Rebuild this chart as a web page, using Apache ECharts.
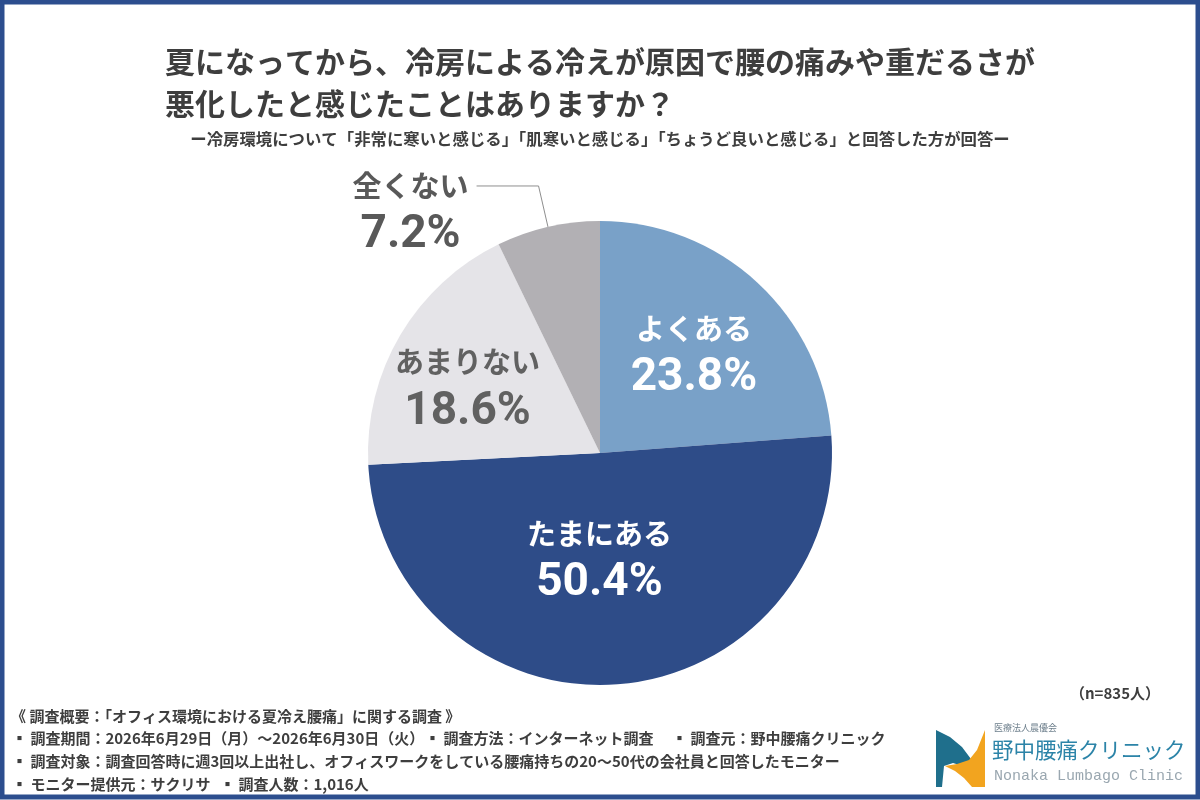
<!DOCTYPE html>
<html>
<head>
<meta charset="utf-8">
<script src="https://cdn.jsdelivr.net/npm/echarts@6.0.0/dist/echarts.min.js"></script>
<style>
  html, body { margin: 0; padding: 0; background: #fff; }
  #main { width: 1200px; height: 800px; }
</style>
</head>
<body>
<div id="main"></div>
<script>
// data
const categories = ['よくある', 'たまにある', 'あまりない', '全くない'];
const percents = [23.8, 50.4, 18.6, 7.2];
const sampleNote = '（n=835人）';

const titleLines = [
  '夏になってから、冷房による冷えが原因で腰の痛みや重だるさが',
  '悪化したと感じたことはありますか？'
];
const subTitle = 'ー冷房環境について「非常に寒いと感じる」「肌寒いと感じる」「ちょうど良いと感じる」と回答した方が回答ー';

const surveyHead = '《 調査概要：「オフィス環境における夏冷え腰痛」に関する調査 》';
const surveyRow1 = ['▪ 調査期間：2026年6月29日（月）～2026年6月30日（火）', '▪ 調査方法：インターネット調査', '▪ 調査元：野中腰痛クリニック'];
const surveyRow2 = ['▪ 調査対象：調査回答時に週3回以上出社し、オフィスワークをしている腰痛持ちの20～50代の会社員と回答したモニター'];
const surveyRow3 = ['▪ モニター提供元：サクリサ', '▪ 調査人数：1,016人'];

// styles
const palette = ['#79a1c8', '#2e4c88', '#e5e4e8', '#b2b0b4'];
const labelColors = ['#ffffff', '#ffffff', '#616161', '#595959'];
const JP = '"Noto Sans CJK JP", "Noto Sans", sans-serif';
const NUM = '"Liberation Sans Narrow", Roboto, "Noto Sans", sans-serif';
const TXT = '#3e3e3e';

const myChart = echarts.init(document.getElementById('main'));

// small nudges for the inside labels
const labelNudge = [[13, -7], [-8, -8], [-30, 0], null];

const pieData = categories.map(function (name, i) {
  const item = {
    name: name,
    value: percents[i],
    itemStyle: { color: palette[i] },
    label: { color: labelColors[i] }
  };
  if (i === 3) {
    item.label = {
      color: labelColors[i],
      position: 'outside',
      distanceToLabelLine: 8,
      formatter: function (p) {
        return '{sp| }\n{name|' + p.name + '}\n{pct|' + p.value.toFixed(1) + '%}';
      }
    };
    item.labelLine = {
      show: true,
      length: 42,
      length2: 62,
      smooth: false,
      lineStyle: { color: '#8e8e8e', width: 1 }
    };
  }
  return item;
});

function footText(str, x, y) {
  return {
    type: 'text',
    x: x,
    y: y,
    style: {
      text: str,
      fill: TXT,
      fontSize: 15,
      fontWeight: 'bold',
      fontFamily: JP,
      textAlign: 'left',
      textVerticalAlign: 'middle'
    }
  };
}

const footer = [
  footText(surveyHead, 11, 716),
  footText(surveyRow1[0], 12, 738),
  footText(surveyRow1[1], 425, 738),
  footText(surveyRow1[2], 672, 738),
  footText(surveyRow2[0], 12, 761),
  footText(surveyRow3[0], 12, 784),
  footText(surveyRow3[1], 220, 784)
];

const logo = [
  {
    type: 'polygon',
    shape: { points: [[936, 730], [950, 737], [962, 747], [971, 759], [978, 773], [966, 767], [953, 763], [944, 766], [942, 787], [936, 787]] },
    style: { fill: '#1f6f8c' }
  },
  {
    type: 'polygon',
    shape: { points: [[985, 730], [985, 787], [972, 787], [964, 778], [955, 771], [945, 766], [957, 764], [969, 760], [977, 750]] },
    style: { fill: '#f2a41f' }
  },
  {
    type: 'text', x: 994, y: 728,
    style: { text: '医療法人晨優会', fill: '#6d7f8c', fontSize: 9, fontFamily: JP, textVerticalAlign: 'middle' }
  },
  {
    type: 'text', x: 992, y: 750,
    style: { text: '野中腰痛クリニック', fill: '#2c84a8', fontSize: 21.5, fontFamily: JP, textVerticalAlign: 'middle' }
  },
  {
    type: 'text', x: 994, y: 776,
    style: { text: 'Nonaka Lumbago Clinic', fill: '#9aa7b0', fontSize: 15, fontFamily: '"Liberation Mono", "DejaVu Sans Mono", monospace', textVerticalAlign: 'middle' }
  }
];

myChart.setOption({
  animation: false,
  backgroundColor: '#ffffff',
  title: [
    {
      text: titleLines.join('\n'),
      left: 165,
      top: 41,
      padding: 0,
      textStyle: { fontSize: 30, fontWeight: 'bold', color: TXT, lineHeight: 42, fontFamily: JP }
    },
    {
      text: subTitle,
      left: 'center',
      top: 128,
      padding: 0,
      textStyle: { fontSize: 16.4, fontWeight: 'bold', color: TXT, lineHeight: 22, fontFamily: JP }
    }
  ],
  graphic: [
    {
      type: 'rect',
      z: 100,
      shape: { x: 2, y: 2, width: 1196, height: 795 },
      style: { fill: 'transparent', stroke: '#2c4e8e', lineWidth: 5 }
    },
    {
      type: 'text', x: 1160, y: 693,
      style: { text: sampleNote, fill: TXT, fontSize: 15, fontWeight: 'bold', fontFamily: JP, textAlign: 'right', textVerticalAlign: 'middle' }
    }
  ].concat(footer, logo),
  series: [
    {
      name: 'Answer',
      type: 'pie',
      center: [600, 453],
      radius: 232,
      startAngle: 90,
      clockwise: true,
      avoidLabelOverlap: false,
      silent: true,
      itemStyle: { borderWidth: 0 },
      label: {
        show: true,
        position: 'inside',
        formatter: function (p) {
          return '{name|' + p.name + '}\n{pct|' + p.value.toFixed(1) + '%}';
        },
        rich: {
          sp: { fontSize: 10, lineHeight: 60 },
          name: { fontSize: 29, fontWeight: 'bold', lineHeight: 40, fontFamily: JP, align: 'center' },
          pct: { fontSize: 46, fontWeight: 'bold', lineHeight: 60, fontFamily: NUM, align: 'center' }
        }
      },
      labelLine: { show: false },
      labelLayout: function (params) {
        const d = labelNudge[params.dataIndex];
        return d ? { dx: d[0], dy: d[1] } : {};
      },
      data: pieData
    }
  ]
});
</script>
</body>
</html>
